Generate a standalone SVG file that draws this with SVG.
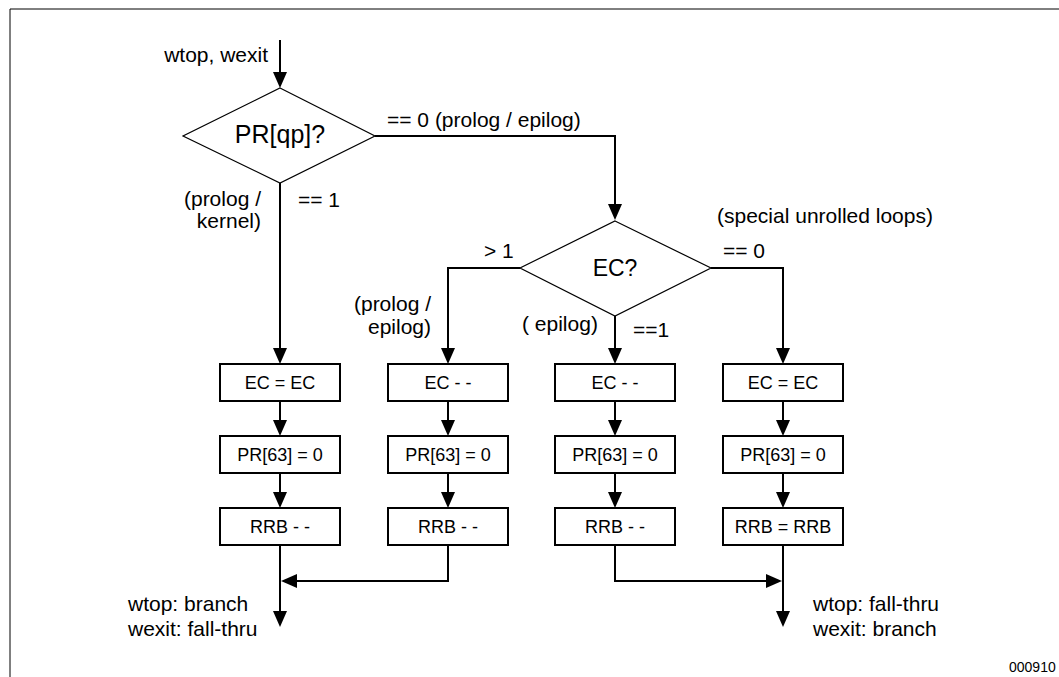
<svg xmlns="http://www.w3.org/2000/svg" width="1059" height="677" viewBox="0 0 1059 677">
<style>
text{font-family:"Liberation Sans",Arial,sans-serif;fill:#000}
.lbl{font-size:21px}
.box rect{fill:#fff;stroke:#000;stroke-width:2}
.box text{font-size:18px;text-anchor:middle}
.dia polygon{fill:#fff;stroke:#000;stroke-width:1.2}
.dia text{text-anchor:middle}
#connectors path{fill:none;stroke:#000;stroke-width:2;marker-end:url(#ah)}
</style>
<defs>
<marker id="ah" markerUnits="userSpaceOnUse" markerWidth="16" markerHeight="14" viewBox="0 0 16 14" refX="8" refY="7" orient="auto">
<path d="M0,0 L16,7 L0,14 z" fill="#000"/>
</marker>
</defs>
<rect width="1059" height="677" fill="#fff"/>
<path d="M10,677 V9 H1059" fill="none" stroke="#000" stroke-width="1"/>

<g id="connectors">
<path d="M280,40 V80"/>
<path d="M375,136 H615 V212"/>
<path d="M280,183 V356"/>
<path d="M520,268 H448 V356"/>
<path d="M615,316 V356"/>
<path d="M711,268 H783 V356"/>
<path d="M280,401 V428"/><path d="M280,473 V500"/>
<path d="M448,401 V428"/><path d="M448,473 V500"/>
<path d="M615,401 V428"/><path d="M615,473 V500"/>
<path d="M783,401 V428"/><path d="M783,473 V500"/>
<path d="M280,545 V619"/>
<path d="M448,545 V581 H289"/>
<path d="M615,545 V581 H774"/>
<path d="M783,545 V619"/>
</g>

<g id="d-prqp" class="dia"><polygon points="280,88 375,136 280,183 183,136"/><text x="280" y="143" font-size="25">PR[qp]?</text></g>
<g id="d-ec" class="dia"><polygon points="615,221 711,268 615,316 520,268"/><text x="615" y="276" font-size="23">EC?</text></g>

<g id="b1a" class="box"><rect x="220" y="364" width="120" height="37"/><text x="280" y="389">EC = EC</text></g>
<g id="b1b" class="box"><rect x="220" y="436" width="120" height="37"/><text x="280" y="461">PR[63] = 0</text></g>
<g id="b1c" class="box"><rect x="220" y="508" width="120" height="37"/><text x="280" y="533">RRB - -</text></g>

<g id="b2a" class="box"><rect x="388" y="364" width="120" height="37"/><text x="448" y="389">EC - -</text></g>
<g id="b2b" class="box"><rect x="388" y="436" width="120" height="37"/><text x="448" y="461">PR[63] = 0</text></g>
<g id="b2c" class="box"><rect x="388" y="508" width="120" height="37"/><text x="448" y="533">RRB - -</text></g>

<g id="b3a" class="box"><rect x="555" y="364" width="120" height="37"/><text x="615" y="389">EC - -</text></g>
<g id="b3b" class="box"><rect x="555" y="436" width="120" height="37"/><text x="615" y="461">PR[63] = 0</text></g>
<g id="b3c" class="box"><rect x="555" y="508" width="120" height="37"/><text x="615" y="533">RRB - -</text></g>

<g id="b4a" class="box"><rect x="723" y="364" width="120" height="37"/><text x="783" y="389">EC = EC</text></g>
<g id="b4b" class="box"><rect x="723" y="436" width="120" height="37"/><text x="783" y="461">PR[63] = 0</text></g>
<g id="b4c" class="box"><rect x="723" y="508" width="120" height="37"/><text x="783" y="533">RRB = RRB</text></g>

<g id="labels" class="lbl">
<text x="268" y="62" text-anchor="end">wtop, wexit</text>
<text x="387" y="127">== 0 (prolog / epilog)</text>
<text x="261" y="206" text-anchor="end">(prolog /</text>
<text x="261" y="228" text-anchor="end">kernel)</text>
<text x="298" y="207">== 1</text>
<text x="717" y="223">(special unrolled loops)</text>
<text x="723" y="258">== 0</text>
<text x="484" y="258">&gt; 1</text>
<text x="431" y="311" text-anchor="end">(prolog /</text>
<text x="431" y="334" text-anchor="end">epilog)</text>
<text x="522" y="331">( epilog)</text>
<text x="633" y="337">==1</text>
<text x="128" y="611">wtop: branch</text>
<text x="128" y="636">wexit: fall-thru</text>
<text x="813" y="611">wtop: fall-thru</text>
<text x="813" y="636">wexit: branch</text>
</g>
<text x="1009" y="672" font-size="14">000910</text>
</svg>
